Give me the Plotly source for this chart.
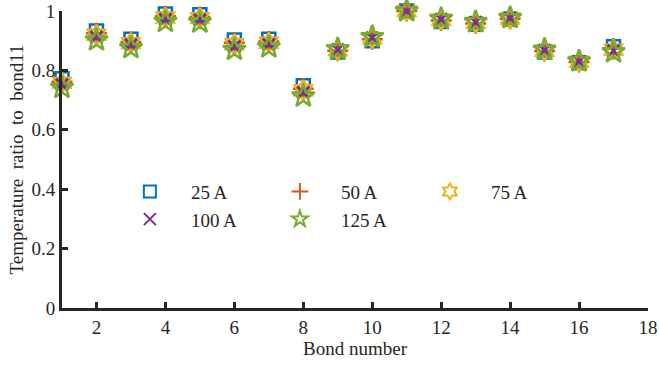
import plotly.graph_objects as go

bonds = list(range(1, 18))
labels = ["25 A", "50 A", "75 A", "100 A", "125 A"]
v25 = [0.772, 0.933, 0.905, 0.990, 0.987, 0.902, 0.905, 0.748, 0.862, 0.900, 1.0, 0.965, 0.955, 0.972, 0.862, 0.826, 0.880]
v50 = [0.762, 0.925, 0.896, 0.982, 0.980, 0.893, 0.897, 0.738, 0.866, 0.905, 1.0, 0.968, 0.958, 0.974, 0.865, 0.828, 0.874]
v75 = [0.758, 0.920, 0.892, 0.978, 0.976, 0.888, 0.893, 0.733, 0.868, 0.908, 1.0, 0.970, 0.960, 0.975, 0.866, 0.829, 0.870]
v100 = [0.752, 0.912, 0.886, 0.972, 0.970, 0.880, 0.887, 0.725, 0.870, 0.910, 1.0, 0.972, 0.962, 0.976, 0.868, 0.830, 0.866]
v125 = [0.742, 0.902, 0.876, 0.964, 0.962, 0.870, 0.878, 0.713, 0.872, 0.913, 1.0, 0.974, 0.963, 0.977, 0.870, 0.831, 0.862]

series = [v25, v50, v75, v100, v125]
colors = ["#0072BD", "#D95319", "#EDB120", "#7E2F8E", "#77AC30"]
symbols = ["square-open", "cross-thin-open", "hexagram-open", "x-thin-open", "star-open"]
sizes = [13, 15, 15, 12, 17]
widths = [2.5, 2.5, 2.5, 3, 2.5]

fig = go.Figure()
for lab, vals, c, s, sz, w in zip(labels, series, colors, symbols, sizes, widths):
    fig.add_trace(go.Scatter(
        x=bonds, y=vals, mode="markers", name=lab, cliponaxis=False,
        marker=dict(symbol=s, size=sz, color=c, line=dict(color=c, width=w)),
    ))

font = "Liberation Serif, Times New Roman, serif"
fig.update_layout(
    width=659, height=366,
    margin=dict(l=62, r=11, t=11, b=58),
    plot_bgcolor="white", paper_bgcolor="white",
    font=dict(family=font, size=19, color="#262626"),
    showlegend=True,
    legend=dict(
        orientation="h", x=0.080, y=0.456, xanchor="left", yanchor="top",
        entrywidth=63, itemwidth=72, itemsizing="constant", bgcolor="rgba(0,0,0,0)",
        font=dict(family=font, size=19, color="#262626"),
    ),
    xaxis=dict(
        range=[1, 18], tickvals=[2, 4, 6, 8, 10, 12, 14, 16, 18],
        showline=True, linecolor="#262626", linewidth=3, mirror=False,
        ticks="inside", ticklen=6, tickwidth=2.5, tickcolor="#262626",
        showgrid=False, zeroline=False, automargin=False,
        title=dict(text="Bond number", standoff=4, font=dict(size=19)),
    ),
    yaxis=dict(
        range=[0, 1], tickvals=[0, 0.2, 0.4, 0.6, 0.8, 1], ticktext=["0", "0.2", "0.4", "0.6", "0.8", "1"],
        showline=True, linecolor="#262626", linewidth=3, mirror=False,
        ticks="inside", ticklen=6, tickwidth=2.5, tickcolor="#262626",
        showgrid=False, zeroline=False, automargin=False,
        title=dict(text="Temperature  ratio  to  bond11", standoff=3, font=dict(size=19)),
    ),
)

fig.write_html("out.html")
